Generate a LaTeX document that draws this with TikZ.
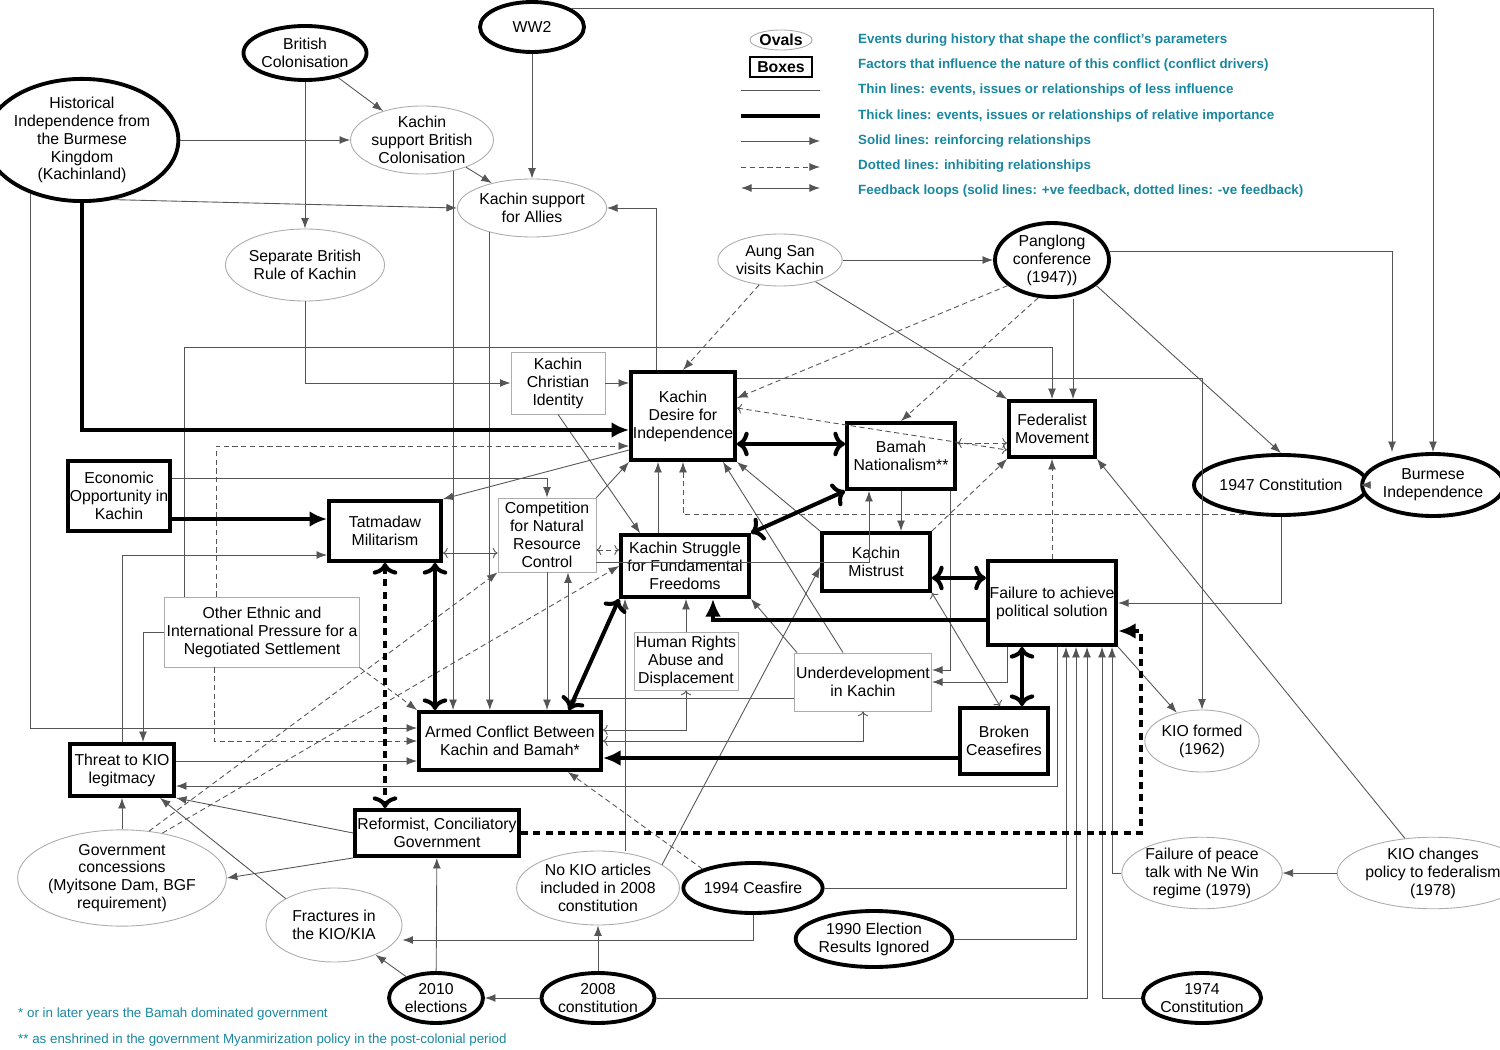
\documentclass[tikz,border=0pt]{standalone}
\usepackage{fontspec}
\setmainfont{Liberation Sans}
\usetikzlibrary{positioning, arrows.meta, shapes.geometric}
\newdimen\pxu
\pxu=0.02cm
\definecolor{legendteal}{RGB}{25,135,160}
\definecolor{linegray}{RGB}{85,85,85}

\begin{document}
\begin{tikzpicture}[
		x=\pxu, y=-\pxu,
		font=\fontsize{9}{10.2}\selectfont,
		sz/.style 2 args={minimum width=#1\pxu, minimum height=#2\pxu},
		every box/.style={rectangle, align=center, inner sep=1pt, fill=white},
		thinbox/.style={every box, draw=gray!65, line width=0.5pt},
		thickbox/.style={every box, draw=black, line width=2.2pt},
		thinoval/.style={ellipse, align=center, inner sep=0pt, fill=white, draw=gray!65, line width=0.5pt},
		thickoval/.style={ellipse, align=center, inner sep=0pt, fill=white, draw=black, line width=2.2pt},
		ln/.style={draw=linegray, line width=0.5pt, -{Latex[length=6pt,width=4.5pt]}},
		dln/.style={ln, dashed, dash pattern=on 3pt off 2pt},
		tk/.style={draw=black, line width=2.3pt, -{Latex[length=10pt,width=9pt]}},
		tkd/.style={tk, dash pattern=on 4pt off 3pt},
		legend/.style={anchor=west, text=legendteal, font=\fontsize{7.6}{9}\selectfont\bfseries},
		note/.style={anchor=west, text=legendteal, font=\fontsize{7.6}{9}\selectfont}
	]
	\useasboundingbox (0,0) rectangle (1500,1050);

	% events (ovals)
	\node [thickoval, sz={104}{50}] (wwtwo) at (532,27) {WW2};
	\node [thickoval, sz={104}{54}] (britcol) at (305,53) {British\\Colonisation};
	\node [thickoval, sz={162}{120}] (histind) at (82,140) {Historical\\Independence from\\the Burmese\\Kingdom\\(Kachinland)};
	\node [thinoval, sz={106}{68}] (supbrit) at (422,140) {Kachin\\support British\\Colonisation};
	\node [thinoval, sz={112}{58}] (supallies) at (532,208) {Kachin support\\for Allies};
	\node [thinoval, sz={112}{72}] (seprule) at (305,265) {Separate British\\Rule of Kachin};
	\node [thinoval, sz={104}{52}] (aungsan) at (780,260) {Aung San\\visits Kachin};
	\node [thickoval, sz={114}{74}] (panglong) at (1052,260) {Panglong\\conference\\(1947))};
	\node [thickoval, sz={124}{60}] (consti47) at (1281,485) {1947 Constitution};
	\node [thickoval, sz={120}{62}] (burind) at (1433,485) {Burmese\\Independence};
	\node [thinoval, sz={100}{62}] (kioformed) at (1202,741) {KIO formed\\(1962)};
	\node [thinoval, sz={146}{84}] (govconc) at (122,878) {Government\\concessions\\(Myitsone Dam, BGF\\requirement)};
	\node [thinoval, sz={136}{74}] (fractures) at (334,925) {Fractures in\\the KIO/KIA};
	\node [thinoval, sz={144}{74}] (nokio) at (598,888) {No KIO articles\\included in 2008\\constitution};
	\node [thickoval, sz={104}{50}] (cease94) at (753,888) {1994 Ceasfire};
	\node [thickoval, sz={118}{56}] (elect90) at (874,939) {1990 Election\\Results Ignored};
	\node [thinoval, sz={150}{66}] (peacetalk) at (1202,873) {Failure of peace\\talk with Ne Win\\regime (1979)};
	\node [thinoval, sz={126}{68}] (kiochange) at (1433,873) {KIO changes\\policy to federalism\\(1978)};
	\node [thickoval, sz={94}{50}] (elect10) at (436,998) {2010\\elections};
	\node [thickoval, sz={104}{50}] (const08) at (598,998) {2008\\constitution};
	\node [thickoval, sz={104}{50}] (const74) at (1202,998) {1974\\Constitution};

	% drivers (boxes)
	\node [thinbox, sz={94}{62}] (christ) at (558,383) {Kachin\\Christian\\Identity};
	\node [thickbox, sz={104}{88}] (desire) at (683,416) {Kachin\\Desire for\\Independence};
	\node [thickbox, sz={86}{56}] (federal) at (1052,429) {Federalist\\Movement};
	\node [thickbox, sz={108}{66}] (bamah) at (901,456) {Bamah\\Nationalism**};
	\node [thickbox, sz={98}{70}] (econ) at (119,496) {Economic\\Opportunity in\\Kachin};
	\node [thickbox, sz={112}{60}] (tatmadaw) at (385,531) {Tatmadaw\\Militarism};
	\node [thinbox, sz={98}{74}] (compet) at (547,535) {Competition\\for Natural\\Resource\\Control};
	\node [thickbox, sz={128}{62}] (struggle) at (685,566) {Kachin Struggle\\for Fundamental\\Freedoms};
	\node [thickbox, sz={108}{58}] (mistrust) at (876,562) {Kachin\\Mistrust};
	\node [thickbox, sz={128}{84}] (failure) at (1052,603) {Failure to achieve\\political solution};
	\node [thinbox, sz={190}{70}] (ethnic) at (262,632) {Other Ethnic and\\International Pressure for a\\Negotiated Settlement};
	\node [thinbox, sz={104}{58}] (humanr) at (686,661) {Human Rights\\Abuse and\\Displacement};
	\node [thinbox, sz={134}{58}] (underdev) at (863,682) {Underdevelopment\\in Kachin};
	\node [thickbox, sz={182}{58}] (armed) at (510,741) {Armed Conflict Between\\Kachin and Bamah*};
	\node [thickbox, sz={88}{66}] (broken) at (1004,741) {Broken\\Ceasefires};
	\node [thickbox, sz={104}{52}] (threat) at (122,770) {Threat to KIO\\legitmacy};
	\node [thickbox, sz={164}{46}] (reform) at (437,833) {Reformist, Conciliatory\\Government};

	% legend
	\node [thinoval, sz={62}{20}, font=\fontsize{9}{10}\selectfont\bfseries] (keyoval) at (781,40) {Ovals};
	\node [thinbox, draw=black, line width=0.8pt, sz={62}{20}, font=\fontsize{9}{10}\selectfont\bfseries] (keybox) at (781,67) {Boxes};
	\draw [draw=linegray, line width=0.5pt] (741,90) -- (820,90);
	\draw [line width=2.3pt] (741,116) -- (820,116);
	\draw [ln] (741,141) -- (820,141);
	\draw [dln] (741,167) -- (820,167);
	\draw [ln, {Latex[length=6pt,width=4.5pt]}-{Latex[length=6pt,width=4.5pt]}] (741,188) -- (820,188);
	\foreach \t [count=\i from 0] in {Events during history that shape the conflict's parameters,
			Factors that influence the nature of this conflict (conflict drivers),
			Thin lines: events{,} issues or relationships of less influence,
			Thick lines: events{,} issues or relationships of relative importance,
			Solid lines: reinforcing relationships,
			Dotted lines: inhibiting relationships,
			Feedback loops (solid lines: +ve feedback{,} dotted lines: -ve feedback)}
		\node [legend] (key-\i) at (852,40+\i*25.2) {\t};
	\node [note] (note1) at (12,1014) {* or in later years the Bamah dominated government};
	\node [note] (note2) at (12,1040) {** as enshrined in the government Myanmirization policy in the post-colonial period};

	% thin links
	\draw [ln] (britcol) -- (supbrit);
	\draw [ln] (britcol) -- (seprule);
	\draw [ln] (histind) -- (supbrit);
	\draw [ln] (histind.-62) -- (supallies.west);
	\draw [ln] (supbrit) -- (supallies);
	\draw [ln] (wwtwo) -- (supallies);
	\draw [ln] (wwtwo.25) -| (burind);
	\draw [ln] (histind.226) |- ([yshift=13\pxu]armed.west);
	\draw [ln] (supbrit.-45) -- (supbrit.-45 |- armed.north);
	\draw [ln] (supallies.-150) -- (supallies.-150 |- armed.north);
	\draw [ln] ([xshift=-27\pxu]desire.north) |- (supallies.east);
	\draw [ln] (seprule) |- (christ);
	\draw [ln] (christ.east) -- (christ.east -| desire.west);
	\draw [ln] (christ.south) -- ([xshift=-45\pxu]struggle.north);
	\draw [ln] (aungsan) -- (panglong);
	\draw [dln] (aungsan.-130) -- (desire.north);
	\draw [ln] (aungsan) -- (federal.north west);
	\draw [ln] ([xshift=21\pxu]panglong.south) -- ([xshift=21\pxu]federal.north);
	\draw [ln] (panglong.8) -| ([xshift=-41\pxu]burind.north);
	\draw [ln] (panglong.-30) -- (consti47.north);
	\draw [dln] (panglong.-150) -- ([yshift=18\pxu]desire.east);
	\draw [dln] (panglong.-110) -- (bamah.north);
	\draw [dln, <->] ([yshift=8\pxu]desire.east) -- ([yshift=-21\pxu]federal.west);
	\draw [dln, <->] ([yshift=13\pxu]bamah.east) -- ([yshift=-14\pxu]federal.west);
	\draw [ln] ([xshift=-78\pxu]ethnic.north) |- (1052,347) -- (federal);
	\draw [ln] ([yshift=38\pxu]desire.east) -| (kioformed);
	\draw [ln] (kiochange) -- (federal.south east);
	\draw [ln] (bamah.south) -- (bamah.south |- mistrust.north);
	\draw [ln] ([xshift=49\pxu]bamah.south) |- ([yshift=12\pxu]underdev.east);
	\draw [ln] ([xshift=-27\pxu]struggle.north) -- ([xshift=-27\pxu]struggle.north |- desire.south);
	\draw [ln] (compet.north east) -- (desire.south west);
	\draw [dln, <->] ([yshift=-15\pxu]compet.east) -- ([yshift=-15\pxu]compet.east -| struggle.west);
	\draw [ln] (compet.south) -- (compet.south |- armed.north);
	\draw [ln] ([xshift=58\pxu]armed.north) -- ([xshift=58\pxu]armed.north |- compet.south);
	\draw [ln, <->] ([yshift=-22\pxu]tatmadaw.east) -- ([yshift=-22\pxu]tatmadaw.east -| compet.west);
	\draw [ln] ([yshift=18\pxu]econ.east) -| (compet.north);
	\draw [ln] ([yshift=-27\pxu]compet.east) -| ([yshift=0\pxu]bamah.south -| 869,0);
	\draw [ln] ([yshift=-34\pxu]desire.west) -- (tatmadaw.north east);
	\draw [dln] ([xshift=-46\pxu]ethnic.north) |- ([yshift=-30\pxu]desire.west);
	\draw [dln] ([xshift=-48\pxu]ethnic.south) |- (armed.west);
	\draw [ln] (threat.north) |- ([yshift=-24\pxu]tatmadaw.west);
	\draw [ln] (ethnic.west) -| ([xshift=21\pxu]threat.north);
	\draw [dln] (ethnic.south east) -- (armed.north west);
	\draw [ln] ([yshift=9\pxu]threat.east) -- ([yshift=9\pxu]threat.east -| armed.west);
	\draw [ln] ([xshift=5\pxu]failure.south) |- ([yshift=-16\pxu]threat.east);
	\draw [ln] (reform.west) -- (threat.south east);
	\draw [ln] (reform.south west) -- (govconc.east);
	\draw [ln] (govconc) -- (threat);
	\draw [dln] (govconc.60) -- (compet.south west);
	\draw [dln] (govconc.48) -- (struggle.west);
	\draw [ln] (fractures.north west) -- ([xshift=38\pxu]threat.south);
	\draw [ln] (elect10) -- (reform);
	\draw [ln] (elect10) -- (fractures);
	\draw [ln] (const08) -- (elect10);
	\draw [ln] (const08) -- (nokio);
	\draw [ln] (const08.east) -| ([xshift=35\pxu]failure.south);
	\draw [ln] (cease94.south) |- ([yshift=-15\pxu]fractures.east);
	\draw [dln] (cease94.north west) -- ([xshift=-35\pxu]armed.south east);
	\draw [ln] (cease94.east) -| ([xshift=14\pxu]failure.south);
	\draw [ln] ([xshift=27\pxu]nokio.north) -- ([xshift=27\pxu]nokio.north |- struggle.south);
	\draw [ln] (nokio.20) -- ([yshift=-5\pxu]mistrust.west);
	\draw [ln] (elect90.east) -| ([xshift=24\pxu]failure.south);
	\draw [ln] (const74.west) -| ([xshift=50\pxu]failure.south);
	\draw [ln] (peacetalk.west) -| ([xshift=60\pxu]failure.south);
	\draw [ln] (kiochange) -- (peacetalk);
	\draw [ln] (consti47) -- (burind);
	\draw [ln] (consti47.south) |- (failure.east);
	\draw [dln] (consti47.218) -| (desire.south);
	\draw [ln] (failure.south east) -- (kioformed);
	\draw [ln, <->] (mistrust.south east) -- ([xshift=-4\pxu]broken.north);
	\draw [dln] (mistrust.north east) -- (federal.south west);
	\draw [dln] (failure.north) -- (federal.south);
	\draw [ln] ([xshift=-45\pxu]failure.south) |- (underdev.east);
	\draw [ln, <->] ([yshift=11\pxu]armed.east) -| (humanr.south);
	\draw [ln, <->] (armed.east) -| (underdev.south);
	\draw [ln] ([yshift=-16\pxu]underdev.west) -| ([xshift=63\pxu]armed.north);
	\draw [ln] ([xshift=-20\pxu]underdev.north) -- ([xshift=40\pxu]desire.south);
	\draw [ln] ([xshift=-66\pxu]underdev.north) -- (struggle.south east);
	\draw [ln] (humanr.north) -- (humanr.north |- struggle.south);
	\draw [ln] (mistrust.north west) -- (desire.south east);

	% thick links
	\draw [tk] (histind.south) |- ([yshift=-14\pxu]desire.west);
	\draw [tk, <->] ([yshift=-28\pxu]desire.east) -- ([yshift=-28\pxu]desire.east -| bamah.west);
	\draw [tk, <->] (struggle.north east) -- (bamah.south west);
	\draw [tk, <->] (struggle.south west) -- ([xshift=-34\pxu]armed.north east);
	\draw [tk] ([yshift=-23\pxu]econ.east) -- ([yshift=-23\pxu]econ.east -| tatmadaw.west);
	\draw [tk, <->] ([xshift=50\pxu]tatmadaw.south) -- ([xshift=50\pxu]tatmadaw.south |- armed.north);
	\draw [tkd, <->] (tatmadaw.south) -- (tatmadaw.south |- reform.north);
	\draw [tkd] (reform.east) -| (1141,631) -- ([yshift=-28\pxu]failure.east);
	\draw [tk] ([yshift=-17\pxu]failure.west) -| ([xshift=28\pxu]struggle.south);
	\draw [tk, <->] ([yshift=-16\pxu]mistrust.east) -- ([yshift=-16\pxu]mistrust.east -| failure.west);
	\draw [tk, <->] ([xshift=-30\pxu]failure.south) -- ([xshift=-30\pxu]failure.south |- broken.north);
	\draw [tk] ([yshift=-17\pxu]broken.west) -- ([yshift=-17\pxu]broken.west -| armed.east);
\end{tikzpicture}
\end{document}
